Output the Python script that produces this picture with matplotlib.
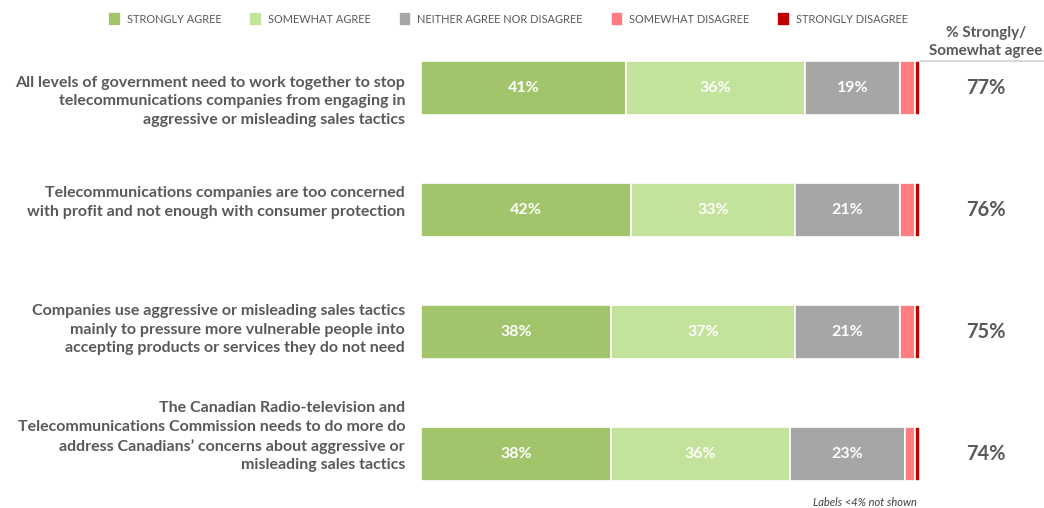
import matplotlib
matplotlib.use("Agg")
import matplotlib.pyplot as plt
from matplotlib.lines import Line2D

plt.rcParams['font.family'] = ['Lato', 'DejaVu Sans']

statements = [
    "All levels of government need to work together to stop\ntelecommunications companies from engaging in\naggressive or misleading sales tactics",
    "Telecommunications companies are too concerned\nwith profit and not enough with consumer protection",
    "Companies use aggressive or misleading sales tactics\nmainly to pressure more vulnerable people into\naccepting products or services they do not need",
    "The Canadian Radio-television and\nTelecommunications Commission needs to do more do\naddress Canadians\u2019 concerns about aggressive or\nmisleading sales tactics",
]
categories = ["STRONGLY AGREE", "SOMEWHAT AGREE", "NEITHER AGREE NOR DISAGREE",
              "SOMEWHAT DISAGREE", "STRONGLY DISAGREE"]
strongly_agree = [41, 42, 38, 38]
somewhat_agree = [36, 33, 37, 36]
neither = [19, 21, 21, 23]
somewhat_disagree = [3, 3, 3, 2]
strongly_disagree = [1, 1, 1, 1]
net_agree = [77, 76, 75, 74]

colors = ["#A2C46A", "#C3E29B", "#A6A6A6", "#FF7C80", "#C00000"]
text_col = "#595959"
# vertical nudge of each statement relative to its bar (data units)
label_shift = [0.11, -0.06, -0.02, -0.14]

fig = plt.figure(figsize=(10.44, 5.08), dpi=100)
ax = fig.add_axes([421 / 1044, 0, 499 / 1044, (508 - 27) / 508])

series = [strongly_agree, somewhat_agree, neither, somewhat_disagree, strongly_disagree]
ypos = list(range(len(statements)))
left = [0] * len(statements)
for vals, cat, col in zip(series, categories, colors):
    bars = ax.barh(ypos, vals, left=left, height=0.44, color=col, label=cat,
                   edgecolor="white", linewidth=1.2)
    for b, v in zip(bars, vals):
        if v >= 4:
            ax.text(b.get_x() + b.get_width() / 2, b.get_y() + b.get_height() / 2,
                    f"{v}%", ha="center", va="center", color="white",
                    fontsize=11.5, fontweight="bold")
    left = [l + v for l, v in zip(left, vals)]

ax.set_xlim(0, 100)
ax.set_ylim((508 - 88) / 122, -0.5)
ax.axis("off")

trans = ax.get_yaxis_transform()
for i, s in enumerate(statements):
    ax.text(-0.032, i + label_shift[i], s, transform=trans, ha="right", va="center",
            fontsize=11.5, fontweight="bold", color=text_col, linespacing=1.42)

for i, n in enumerate(net_agree):
    ax.text(1.132, i, f"{n}%", transform=trans, ha="center", va="center",
            fontsize=14.5, fontweight="bold", color=text_col)

# column header with rule underneath
fig.text(986 / 1044, 1 - 42 / 508, "% Strongly/\nSomewhat agree", ha="center", va="center",
         fontsize=11, fontweight="bold", color=text_col, linespacing=1.45)
fig.add_artist(Line2D([921 / 1044, 1.0], [1 - 61 / 508, 1 - 61 / 508],
                      color="#D9D9D9", linewidth=1.5))

fig.text(917 / 1044, 1 - 502 / 508, "Labels <4% not shown", ha="right", va="center",
         fontsize=8, style="italic", color="#404040")

handles, labels = ax.get_legend_handles_labels()
leg = fig.legend(handles, labels, ncol=5, loc="center left",
                 bbox_to_anchor=(108 / 1044, 1 - 19 / 508), frameon=False,
                 fontsize=7.9, handlelength=1.15, handleheight=1.45, handletextpad=0.55,
                 columnspacing=2.55, borderaxespad=0, borderpad=0)
for t in leg.get_texts():
    t.set_color(text_col)

fig.savefig("out.png", dpi=100)
